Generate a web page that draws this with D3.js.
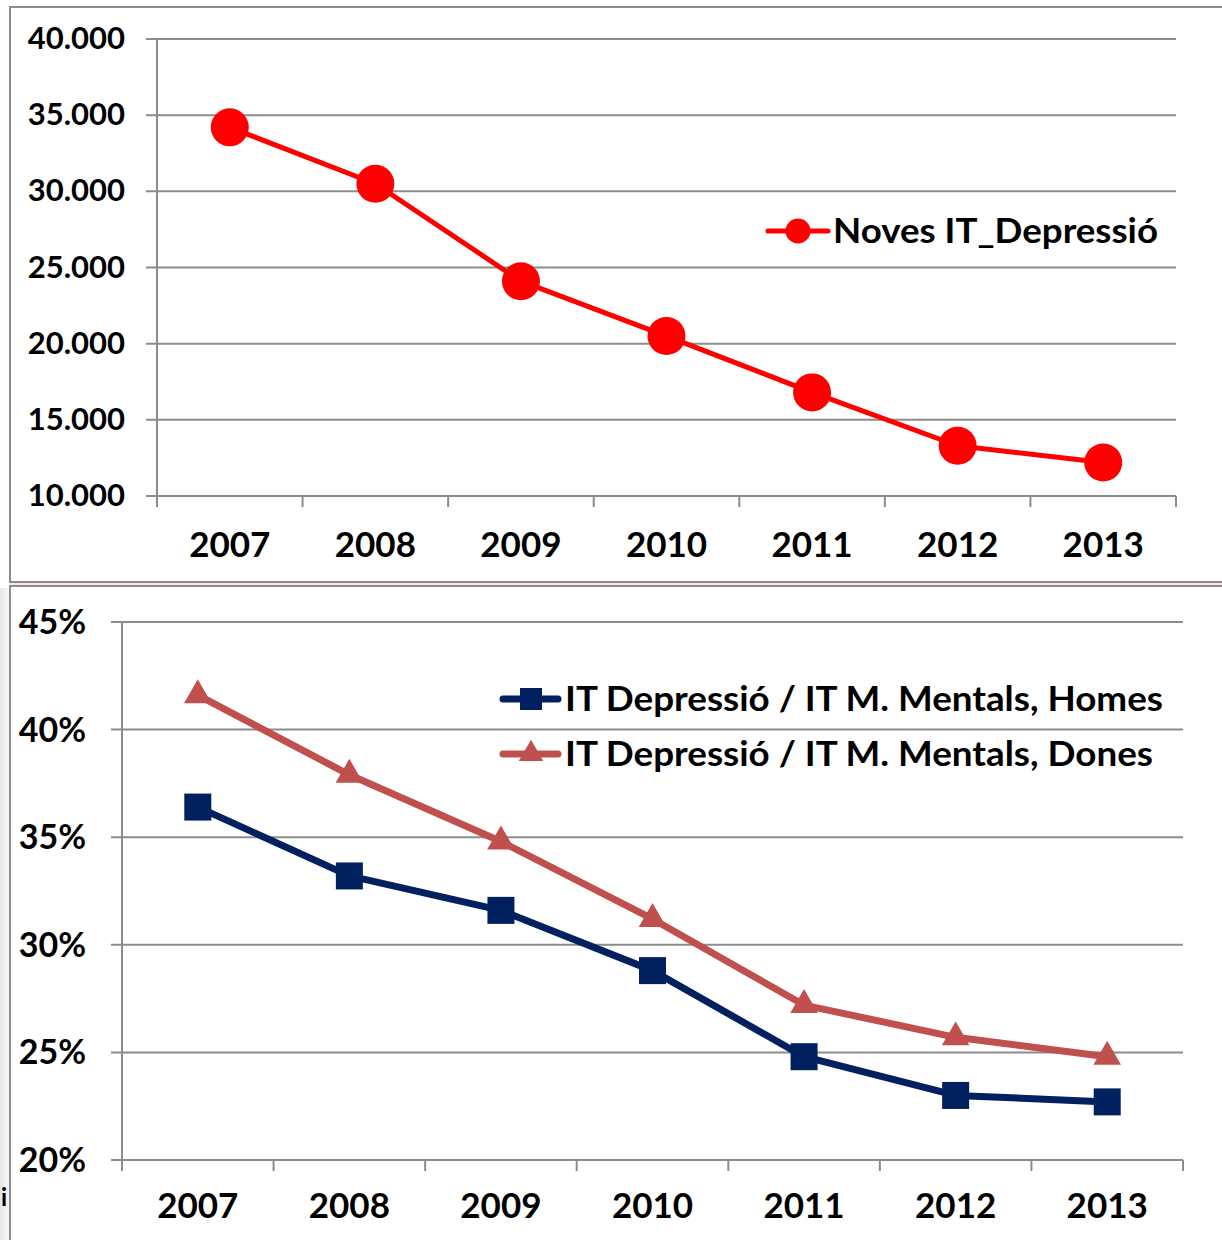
<!DOCTYPE html>
<html>
<head>
<meta charset="utf-8">
<script src="https://cdn.jsdelivr.net/npm/d3@7"></script>
<style>
    html, body { margin: 0; padding: 0; background: #fff; }
    svg text { font-family: Lato, 'Open Sans', sans-serif; font-weight: 700; fill: #000; }
</style>
</head>
<body>
<svg id="chart" width="1222" height="1240"></svg>
<script>
    // data
    var YEARS = ['2007', '2008', '2009', '2010', '2011', '2012', '2013'];
    var NOVES_IT = [34200, 30500, 24100, 20500, 16800, 13300, 12200];
    var HOMES = [36.4, 33.2, 31.6, 28.8, 24.8, 23.0, 22.7];
    var DONES = [41.6, 37.9, 34.8, 31.2, 27.2, 25.7, 24.8];
    var TOP_TICKS = [10000, 15000, 20000, 25000, 30000, 35000, 40000];
    var BOTTOM_TICKS = [20, 25, 30, 35, 40, 45];
    var TOP_LEGEND = 'Noves IT_Depressió';
    var HOMES_LEGEND = 'IT Depressió / IT M. Mentals, Homes';
    var DONES_LEGEND = 'IT Depressió / IT M. Mentals, Dones';

    (function (d3) {
        'use strict';

        var GRID_COLOR = '#8c8c8c',
            RED        = '#ff0000',
            NAVY       = '#002060',
            ROSE       = '#c0504d';

        var svg = d3.select('#chart');

        svg.append('rect').attr('width', 1222).attr('height', 1240).attr('fill', '#fff');

        // faint shadow down the left edge of the lower panel
        var grad = svg.append('defs').append('linearGradient').attr('id', 'edge');
        grad.append('stop').attr('offset', '0%').attr('stop-color', '#e6e6e6');
        grad.append('stop').attr('offset', '100%').attr('stop-color', '#fafafa');
        svg.append('rect').attr('x', 0).attr('y', 588).attr('width', 10).attr('height', 652).attr('fill', 'url(#edge)');

        // panel frames
        svg.append('rect').attr('x', 10).attr('y', 7).attr('width', 1230).attr('height', 575)
            .attr('fill', 'none').attr('stroke', GRID_COLOR).attr('stroke-width', 2);
        svg.append('rect').attr('x', 10).attr('y', 586).attr('width', 1230).attr('height', 700)
            .attr('fill', 'none').attr('stroke', GRID_COLOR).attr('stroke-width', 2);
        svg.append('line').attr('x1', 10).attr('x2', 1222).attr('y1', 584).attr('y2', 584)
            .attr('stroke', '#f2c8c8').attr('stroke-width', 1);

        /**
         * draw the frame of one chart: gridlines, axis, ticks and labels
         */
        function drawFrame(g, x, y, ticks, fmt, opts) {
            var x0 = x.range()[0],
                x1 = x.range()[1],
                y0 = y.range()[0],
                y1 = y.range()[1];

            g.selectAll('line.grid')
                .data(ticks)
                .enter().append('line')
                .attr('class', 'grid')
                .attr('x1', x0 - 11).attr('x2', x1)
                .attr('y1', function (d) { return y(d); })
                .attr('y2', function (d) { return y(d); })
                .attr('stroke', GRID_COLOR).attr('stroke-width', 2);

            g.append('line')
                .attr('x1', x0).attr('x2', x0).attr('y1', y1).attr('y2', y0 + 11)
                .attr('stroke', GRID_COLOR).attr('stroke-width', 2);

            var bounds = YEARS.map(function (d) { return x(d); }).concat([x1]);
            g.selectAll('line.xtick')
                .data(bounds)
                .enter().append('line')
                .attr('class', 'xtick')
                .attr('x1', function (d) { return d; }).attr('x2', function (d) { return d; })
                .attr('y1', y0).attr('y2', y0 + 11)
                .attr('stroke', GRID_COLOR).attr('stroke-width', 2);

            g.selectAll('text.ylab')
                .data(ticks)
                .enter().append('text')
                .attr('class', 'ylab')
                .attr('x', opts.yLabelX)
                .attr('y', function (d) { return y(d) + opts.yLabelShift; })
                .attr('text-anchor', 'end')
                .style('font-size', opts.yLabelSize + 'px')
                .text(fmt);

            g.selectAll('text.xlab')
                .data(YEARS)
                .enter().append('text')
                .attr('class', 'xlab')
                .attr('x', function (d) { return x(d) + x.bandwidth() / 2; })
                .attr('y', opts.xLabelY)
                .attr('text-anchor', 'middle')
                .style('font-size', opts.xLabelSize + 'px')
                .text(function (d) { return d; });
        }

        function cx(x) {
            return function (d, i) { return x(YEARS[i]) + x.bandwidth() / 2; };
        }

        // ---- top chart: new depression sick leaves
        var xTop = d3.scaleBand().domain(YEARS).range([157, 1176]),
            yTop = d3.scaleLinear().domain([10000, 40000]).range([496, 39]),
            gTop = svg.append('g');

        drawFrame(gTop, xTop, yTop, TOP_TICKS, function (d) {
            return d3.format(',')(d).replace(/,/g, '.');
        }, { yLabelX: 125, yLabelShift: 10, yLabelSize: 31, xLabelY: 557, xLabelSize: 35 });

        gTop.append('path')
            .datum(NOVES_IT)
            .attr('d', d3.line().x(cx(xTop)).y(function (d) { return yTop(d); }))
            .attr('fill', 'none').attr('stroke', RED).attr('stroke-width', 5)
            .attr('stroke-linejoin', 'round');

        gTop.selectAll('circle.pt')
            .data(NOVES_IT)
            .enter().append('circle')
            .attr('class', 'pt')
            .attr('cx', cx(xTop))
            .attr('cy', function (d) { return yTop(d); })
            .attr('r', 19)
            .attr('fill', RED);

        var lgTop = gTop.append('g').attr('transform', 'translate(768,231)');
        lgTop.append('line').attr('x1', 0).attr('x2', 60).attr('stroke', RED).attr('stroke-width', 5).attr('stroke-linecap', 'round');
        lgTop.append('circle').attr('cx', 30).attr('r', 12.5).attr('fill', RED);
        lgTop.append('text').attr('x', 65).attr('y', 12).style('font-size', '35px')
            .attr('textLength', 325).attr('lengthAdjust', 'spacingAndGlyphs').text(TOP_LEGEND);

        // ---- bottom chart: share of depression among mental disorder leaves
        var xBot = d3.scaleBand().domain(YEARS).range([122, 1183]),
            yBot = d3.scaleLinear().domain([20, 45]).range([1160, 622]),
            gBot = svg.append('g');

        drawFrame(gBot, xBot, yBot, BOTTOM_TICKS, function (d) { return d + '%'; },
            { yLabelX: 86, yLabelShift: 12, yLabelSize: 34, xLabelY: 1218, xLabelSize: 35 });

        var lineBot = d3.line().x(cx(xBot)).y(function (d) { return yBot(d); });
        var square = d3.symbol().type(d3.symbolSquare).size(27 * 27),
            triangle = d3.symbol().type(d3.symbolTriangle).size(330);

        [{ data: DONES, color: ROSE, symbol: triangle },
         { data: HOMES, color: NAVY, symbol: square }].forEach(function (s) {
            gBot.append('path')
                .datum(s.data)
                .attr('d', lineBot)
                .attr('fill', 'none').attr('stroke', s.color).attr('stroke-width', 7)
                .attr('stroke-linejoin', 'round');
            gBot.selectAll(null)
                .data(s.data)
                .enter().append('path')
                .attr('d', s.symbol)
                .attr('transform', function (d, i) {
                    return 'translate(' + cx(xBot)(d, i) + ',' + yBot(d) + ')';
                })
                .attr('fill', s.color);
        });

        [{ label: HOMES_LEGEND, color: NAVY, symbol: d3.symbol().type(d3.symbolSquare).size(22 * 22), y: 699, w: 598 },
         { label: DONES_LEGEND, color: ROSE, symbol: d3.symbol().type(d3.symbolTriangle).size(260), y: 754, w: 588 }].forEach(function (l) {
            var lg = gBot.append('g').attr('transform', 'translate(500,' + l.y + ')');
            lg.append('line').attr('x1', 3).attr('x2', 58).attr('stroke', l.color).attr('stroke-width', 7).attr('stroke-linecap', 'round');
            lg.append('path').attr('d', l.symbol).attr('transform', 'translate(31,0)').attr('fill', l.color);
            lg.append('text').attr('x', 65).attr('y', 12).style('font-size', '34px')
                .attr('textLength', l.w).attr('lengthAdjust', 'spacingAndGlyphs').text(l.label);
        });

        // stray character showing at the left edge
        svg.append('text').attr('x', 1).attr('y', 1206).style('font-size', '24px').text('i');
    })(d3);
</script>
</body>
</html>
